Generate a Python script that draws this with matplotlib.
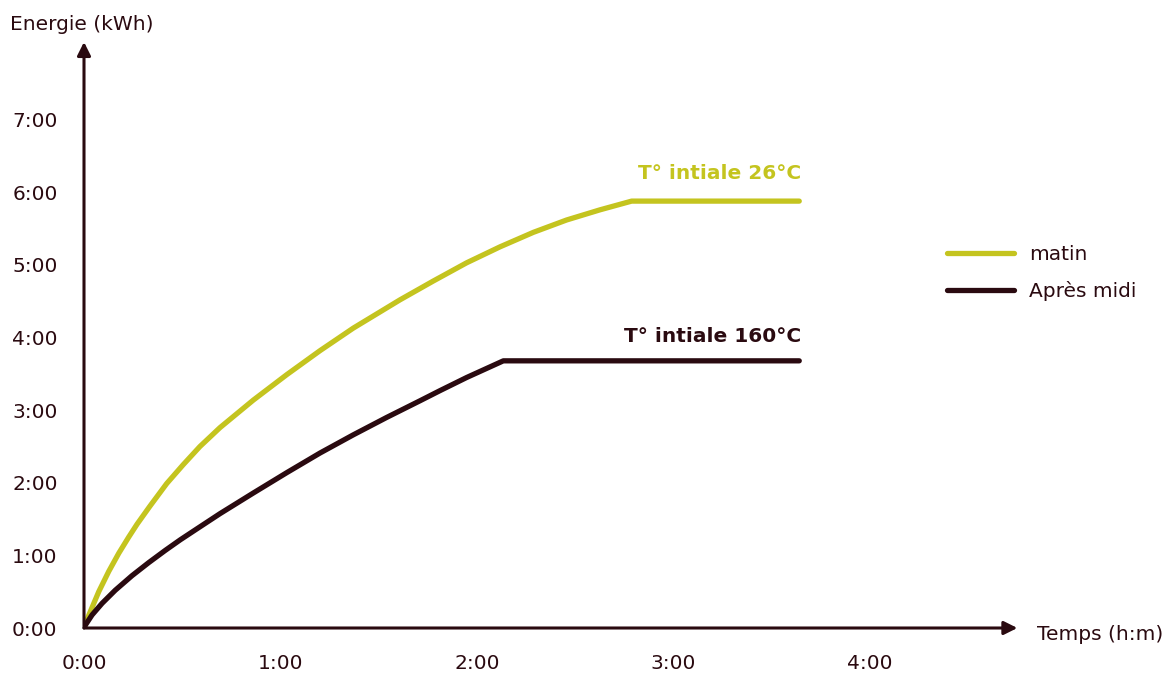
import matplotlib
matplotlib.use("Agg")
import matplotlib.pyplot as plt
from matplotlib.lines import Line2D

# ---- data (hours, kWh) ----
matin_t = [0.0, 0.025, 0.075, 0.126, 0.177, 0.227, 0.27, 0.336, 0.421, 0.505, 0.59, 0.692,
           0.862, 1.032, 1.201, 1.370, 1.608, 1.778, 1.947, 2.117, 2.287, 2.456, 2.626, 2.787, 3.64]
matin_e = [0.0, 0.18, 0.50, 0.78, 1.03, 1.25, 1.43, 1.68, 1.99, 2.25, 2.50, 2.76,
           3.14, 3.49, 3.82, 4.13, 4.52, 4.78, 5.03, 5.25, 5.45, 5.62, 5.76, 5.88, 5.88]
aprem_t = [0.0, 0.007, 0.041, 0.092, 0.159, 0.244, 0.329, 0.414, 0.490, 0.574, 0.692, 0.862,
           1.032, 1.201, 1.370, 1.540, 1.710, 1.812, 1.947, 2.134, 3.64]
aprem_e = [0.0, 0.04, 0.18, 0.34, 0.52, 0.72, 0.90, 1.07, 1.215, 1.365, 1.575, 1.86,
           2.14, 2.41, 2.66, 2.90, 3.13, 3.27, 3.45, 3.68, 3.68]
x_ticks = [0, 1, 2, 3, 4]
x_labels = ["0:00", "1:00", "2:00", "3:00", "4:00"]
y_ticks = [0, 1, 2, 3, 4, 5, 6, 7]
y_labels = ["0:00", "1:00", "2:00", "3:00", "4:00", "5:00", "6:00", "7:00"]
series_names = ["matin", "Après midi"]
annot_texts = ["T° intiale 26°C", "T° intiale 160°C"]

GREEN = "#c4c41f"
DARK = "#2a0a10"
FS = 14.5
LW = 3.8

plt.rcParams['font.family'] = ['DejaVu Sans']

W, H = 1172, 673
fig = plt.figure(figsize=(W / 100, H / 100), dpi=100)
px_per_h = 196.5
px_per_e = 72.6
x0, y0 = 84, 628
right_px, top_px = 1040, 30
ax = fig.add_axes([x0 / W, (H - y0) / H, (right_px - x0) / W, (y0 - top_px) / H])
ax.set_xlim(0, (right_px - x0) / px_per_h)
ax.set_ylim(0, (y0 - top_px) / px_per_e)
for s in ax.spines.values():
    s.set_visible(False)

ax.plot(matin_t, matin_e, color=GREEN, lw=LW, solid_capstyle='round', solid_joinstyle='round', zorder=3)
ax.plot(aprem_t, aprem_e, color=DARK, lw=LW, solid_capstyle='round', solid_joinstyle='round', zorder=3)

# axes arrows
ax.annotate('', xy=(4.75, 0), xytext=(0, 0),
            arrowprops=dict(arrowstyle='-|>,head_length=0.8,head_width=0.4', color=DARK, lw=2.2,
                            shrinkA=0, shrinkB=0), annotation_clip=False)
ax.annotate('', xy=(0, (y0 - 42) / px_per_e), xytext=(0, 0),
            arrowprops=dict(arrowstyle='-|>,head_length=0.8,head_width=0.4', color=DARK, lw=2.2,
                            shrinkA=0, shrinkB=0), annotation_clip=False)

ax.set_xticks(x_ticks)
ax.set_xticklabels(x_labels)
ax.set_yticks(y_ticks)
ax.set_yticklabels(y_labels)
ax.tick_params(axis='both', length=0, labelsize=FS, colors=DARK)
ax.tick_params(axis='x', pad=19)
ax.tick_params(axis='y', pad=19)

fig.text(10 / W, 1 - 25 / H, "Energie (kWh)", fontsize=FS, color=DARK, va='center', ha='left')
fig.text(1037 / W, 1 - 635 / H, "Temps (h:m)", fontsize=FS, color=DARK, va='center', ha='left')

ax.text(matin_t[-1] + 0.01, matin_e[-1] + 0.38, annot_texts[0], color=GREEN, fontsize=FS,
        fontweight='bold', ha='right', va='center')
ax.text(aprem_t[-1] + 0.01, aprem_e[-1] + 0.34, annot_texts[1], color=DARK, fontsize=FS,
        fontweight='bold', ha='right', va='center')

handles = [Line2D([], [], color=GREEN, lw=LW, solid_capstyle='round'),
           Line2D([], [], color=DARK, lw=LW, solid_capstyle='round')]
leg = fig.legend(handles, series_names, loc='center left', bbox_to_anchor=(929 / W, 1 - 273 / H),
                 frameon=False, fontsize=FS, handlelength=3.3, handletextpad=0.75, labelspacing=0.8)
for t in leg.get_texts():
    t.set_color(DARK)

fig.savefig("out.png", dpi=100, facecolor='white')
